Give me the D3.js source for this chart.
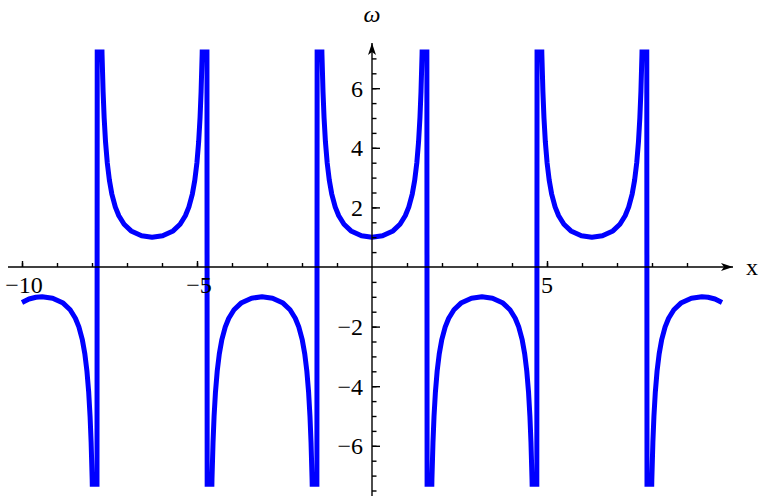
<!DOCTYPE html>
<html>
<head>
<meta charset="utf-8">
<script src="https://cdn.jsdelivr.net/npm/d3@7"></script>
<style>
  html, body { margin: 0; padding: 0; background: #fff; }
  svg { display: block; }
  text { font-family: "Liberation Serif", "DejaVu Serif", serif; fill: #000; }
</style>
</head>
<body>
<script>
const xValues = [
  -10, -9.8, -9.6, -9.425, -9.125, -8.825, -8.625, -8.475, -8.375, -8.275, -8.205, -8.145, -8.095, -8.055, -8.025, -7.995, -7.965, -7.875,
  -7.833, -7.743, -7.713, -7.683, -7.653, -7.613, -7.563, -7.503, -7.433, -7.333, -7.233, -7.083, -6.883, -6.583, -6.283,
  -5.983, -5.683, -5.483, -5.333, -5.233, -5.133, -5.063, -5.003, -4.953, -4.913, -4.883, -4.853, -4.823, -4.733,
  -4.692, -4.602, -4.572, -4.542, -4.512, -4.472, -4.422, -4.362, -4.292, -4.192, -4.092, -3.942, -3.742, -3.442, -3.142,
  -2.842, -2.542, -2.342, -2.192, -2.092, -1.992, -1.922, -1.862, -1.812, -1.772, -1.742, -1.712, -1.682, -1.592,
  -1.55, -1.46, -1.43, -1.40, -1.37, -1.33, -1.28, -1.22, -1.15, -1.05, -0.95, -0.8, -0.6, -0.3, 0,
  0.3, 0.6, 0.8, 0.95, 1.05, 1.15, 1.22, 1.28, 1.33, 1.37, 1.40, 1.43, 1.46, 1.55,
  1.592, 1.682, 1.712, 1.742, 1.772, 1.812, 1.862, 1.922, 1.992, 2.092, 2.192, 2.342, 2.542, 2.842, 3.142,
  3.442, 3.742, 3.942, 4.092, 4.192, 4.292, 4.362, 4.422, 4.472, 4.512, 4.542, 4.572, 4.602, 4.692,
  4.733, 4.823, 4.853, 4.883, 4.913, 4.953, 5.003, 5.063, 5.133, 5.233, 5.333, 5.483, 5.683, 5.983, 6.283,
  6.583, 6.883, 7.083, 7.233, 7.333, 7.433, 7.503, 7.563, 7.613, 7.653, 7.683, 7.713, 7.743, 7.833,
  7.875, 7.965, 7.995, 8.025, 8.055, 8.095, 8.145, 8.205, 8.275, 8.375, 8.475, 8.625, 8.825, 9.125, 9.425, 9.6, 9.8, 10
];
const omegaValues = [
  -1.1917, -1.0747, -1.0155, -1, -1.0468, -1.2116, -1.4353, -1.7192, -2.0098, -2.4480, -2.9099, -3.4877, -4.1932, -5.0138, -5.8835, -7.1261, -9.040, -48.09,
  48.09, 9.040, 7.1261, 5.8835, 5.0138, 4.1932, 3.4877, 2.9099, 2.4480, 2.0098, 1.7192, 1.4353, 1.2116, 1.0468, 1,
  1.0468, 1.2116, 1.4353, 1.7192, 2.0098, 2.4480, 2.9099, 3.4877, 4.1932, 5.0138, 5.8835, 7.1261, 9.040, 48.09,
  -48.09, -9.040, -7.1261, -5.8835, -5.0138, -4.1932, -3.4877, -2.9099, -2.4480, -2.0098, -1.7192, -1.4353, -1.2116, -1.0468, -1,
  -1.0468, -1.2116, -1.4353, -1.7192, -2.0098, -2.4480, -2.9099, -3.4877, -4.1932, -5.0138, -5.8835, -7.1261, -9.040, -48.09,
  48.09, 9.040, 7.1261, 5.8835, 5.0138, 4.1932, 3.4877, 2.9099, 2.4480, 2.0098, 1.7192, 1.4353, 1.2116, 1.0468, 1,
  1.0468, 1.2116, 1.4353, 1.7192, 2.0098, 2.4480, 2.9099, 3.4877, 4.1932, 5.0138, 5.8835, 7.1261, 9.040, 48.09,
  -48.09, -9.040, -7.1261, -5.8835, -5.0138, -4.1932, -3.4877, -2.9099, -2.4480, -2.0098, -1.7192, -1.4353, -1.2116, -1.0468, -1,
  -1.0468, -1.2116, -1.4353, -1.7192, -2.0098, -2.4480, -2.9099, -3.4877, -4.1932, -5.0138, -5.8835, -7.1261, -9.040, -48.09,
  48.09, 9.040, 7.1261, 5.8835, 5.0138, 4.1932, 3.4877, 2.9099, 2.4480, 2.0098, 1.7192, 1.4353, 1.2116, 1.0468, 1,
  1.0468, 1.2116, 1.4353, 1.7192, 2.0098, 2.4480, 2.9099, 3.4877, 4.1932, 5.0138, 5.8835, 7.1261, 9.040, 48.09,
  -48.09, -9.040, -7.1261, -5.8835, -5.0138, -4.1932, -3.4877, -2.9099, -2.4480, -2.0098, -1.7192, -1.4353, -1.2116, -1.0468, -1, -1.0155, -1.0747, -1.1917
];
const plotRange = [-7.37, 7.3];
const xMajorTicks = [-10, -5, 5];
const xMinorTicks = [-10, -9, -8, -7, -6, -5, -4, -3, -2, -1, 1, 2, 3, 4, 5, 6, 7, 8, 9];
const yMajorTicks = [-6, -4, -2, 2, 4, 6];
const yMinorTicks = [-7.5, -7, -6.5, -6, -5.5, -5, -4.5, -4, -3.5, -3, -2.5, -2, -1.5, -1, -0.5,
                     0.5, 1, 1.5, 2, 2.5, 3, 3.5, 4, 4.5, 5, 5.5, 6, 6.5, 7];
const xLabel = "x";
const yLabel = "ω";

// ---- drawing ----
const W = 765, H = 496;
const svg = d3.select("body").append("svg").attr("width", W).attr("height", H);

const x = d3.scaleLinear().domain([-10, 10]).range([22, 722]);
const y = d3.scaleLinear().domain([-7.5, 7.5]).range([490.5, 43.5]);

const fmt = v => (v < 0 ? "\u2212" + Math.abs(v) : String(v));

// clip to plot range
svg.append("defs").append("clipPath").attr("id", "clip")
  .append("rect")
  .attr("x", 0).attr("width", W)
  .attr("y", y(plotRange[1]))
  .attr("height", y(plotRange[0]) - y(plotRange[1]));

const pts = xValues.map((v, i) => [v, omegaValues[i]]);
const line = d3.line().x(d => x(d[0])).y(d => y(d[1]));

svg.append("g").attr("clip-path", "url(#clip)")
  .append("path")
  .datum(pts)
  .attr("d", line)
  .attr("fill", "none")
  .attr("stroke", "#0000ff")
  .attr("stroke-width", 5)
  .attr("stroke-linejoin", "round");

// arrow marker
const defs = svg.select("defs");
defs.append("marker").attr("id", "arrow")
  .attr("viewBox", "0 0 12 8").attr("refX", 12).attr("refY", 4)
  .attr("markerWidth", 12).attr("markerHeight", 8)
  .attr("markerUnits", "userSpaceOnUse")
  .attr("orient", "auto")
  .append("path").attr("d", "M0,0 L12,4 L0,8 L3,4 Z").attr("fill", "#000");

const y0 = y(0), x0 = x(0);

// x axis line
svg.append("line")
  .attr("x1", 8).attr("x2", 733).attr("y1", y0).attr("y2", y0)
  .attr("stroke", "#000").attr("stroke-width", 1.4)
  .attr("marker-end", "url(#arrow)");
// y axis line
svg.append("line")
  .attr("x1", x0).attr("x2", x0).attr("y1", H).attr("y2", 43)
  .attr("stroke", "#000").attr("stroke-width", 1.4)
  .attr("marker-end", "url(#arrow)");

// x ticks (upwards) via d3 axes
const xMinor = svg.append("g").attr("transform", `translate(0,${y0})`)
  .call(d3.axisTop(x).tickValues(xMinorTicks).tickSize(4).tickFormat(""));
const xMajor = svg.append("g").attr("transform", `translate(0,${y0})`)
  .call(d3.axisTop(x).tickValues(xMajorTicks).tickSize(6).tickFormat(""));
// y ticks (to the right)
const yMinor = svg.append("g").attr("transform", `translate(${x0},0)`)
  .call(d3.axisRight(y).tickValues(yMinorTicks).tickSize(4.5).tickFormat(""));
const yMajor = svg.append("g").attr("transform", `translate(${x0},0)`)
  .call(d3.axisRight(y).tickValues(yMajorTicks).tickSize(8).tickFormat(""));
[xMinor, xMajor, yMinor, yMajor].forEach(g => {
  g.select(".domain").remove();
  g.selectAll(".tick line").attr("stroke", "#000").attr("stroke-width", 1.4);
});

// x tick labels
svg.append("g").selectAll("text").data(xMajorTicks).join("text")
  .attr("x", d => x(d) + (d < 0 ? 2 : 0))
  .attr("y", y0 + 26)
  .attr("text-anchor", "middle")
  .attr("font-size", 24)
  .text(fmt);

// y tick labels
svg.append("g").selectAll("text").data(yMajorTicks).join("text")
  .attr("x", x0 - 9)
  .attr("y", d => y(d))
  .attr("dy", "0.35em")
  .attr("text-anchor", "end")
  .attr("font-size", 24)
  .text(fmt);

// axis labels
svg.append("text").attr("x", 746).attr("y", 275).attr("font-size", 24).text(xLabel);
svg.append("text").attr("x", 372).attr("y", 22).attr("text-anchor", "middle")
  .attr("font-size", 24).attr("font-style", "italic").text(yLabel);
</script>
</body>
</html>
